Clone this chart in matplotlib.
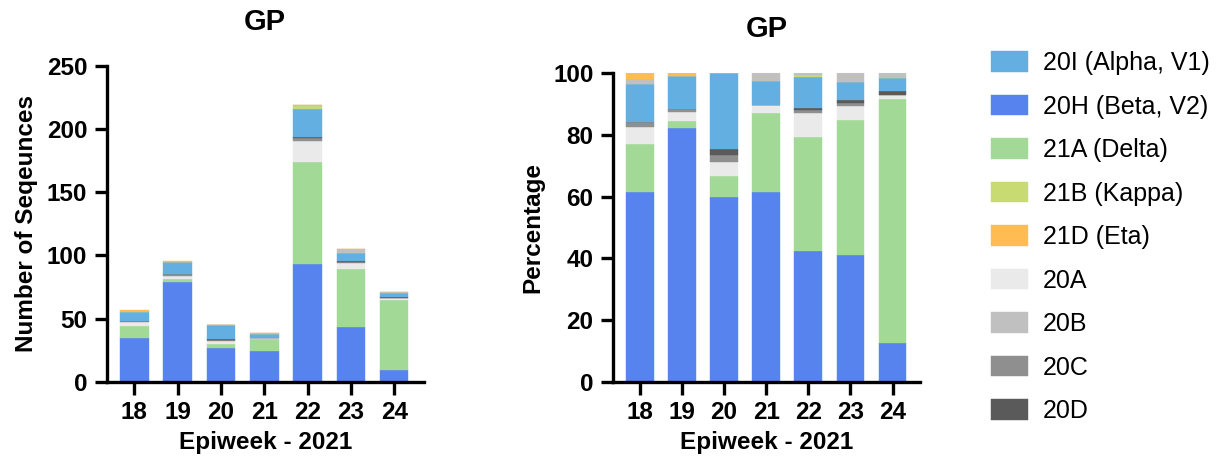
import numpy as np
import matplotlib
matplotlib.use("Agg")
from matplotlib import pyplot as plt

plt.rcParams['font.family'] = ['Liberation Sans', 'DejaVu Sans']

# data: sequences per clade per epiweek (GP)
weeks = ['18', '19', '20', '21', '22', '23', '24']
c20H = [35, 79, 27, 24, 93, 43, 9]
c21A = [9, 2, 3, 10, 81, 46, 56]
c20A = [3, 3, 2, 1, 17, 5, 1]
c20C = [1, 1, 1, 0, 2, 1, 0]
c20D = [0, 0, 1, 0, 1, 1, 1]
c20I = [7, 10, 11, 3, 22, 6, 3]
c21B = [0, 0, 0, 0, 2, 0, 0]
c20B = [1, 0, 0, 1, 1, 3, 1]
c21D = [1, 1, 0, 0, 0, 0, 0]

# stack order, bottom to top
stack = [
    ('20H (Beta, V2)', c20H, '#5683EE'),
    ('21A (Delta)', c21A, '#A2D996'),
    ('20A', c20A, '#EAEAEA'),
    ('20C', c20C, '#8F8F8F'),
    ('20D', c20D, '#5A5A5A'),
    ('20I (Alpha, V1)', c20I, '#63AFE2'),
    ('21B (Kappa)', c21B, '#C8DB72'),
    ('20B', c20B, '#C0C0C0'),
    ('21D (Eta)', c21D, '#FFBC52'),
]
legend_order = ['20I (Alpha, V1)', '20H (Beta, V2)', '21A (Delta)', '21B (Kappa)',
                '21D (Eta)', '20A', '20B', '20C', '20D']

fig = plt.figure(figsize=(12.21, 4.65), dpi=100)
ax1 = fig.add_axes([0.0874, 0.179, 0.2595, 0.679])
ax2 = fig.add_axes([0.502, 0.179, 0.2514, 0.6636])

x = np.arange(len(weeks))
totals = np.sum([s[1] for s in stack], axis=0)

handles = {}
bottom1 = np.zeros(len(weeks))
bottom2 = np.zeros(len(weeks))
for name, vals, col in stack:
    vals = np.array(vals, dtype=float)
    pct = vals / totals * 100
    b = ax1.bar(x, vals, 0.66, bottom=bottom1, color=col, edgecolor=col, linewidth=0.3)
    ax2.bar(x, pct, 0.66, bottom=bottom2, color=col, edgecolor=col, linewidth=0.3)
    bottom1 += vals
    bottom2 += pct
    handles[name] = b

for ax in (ax1, ax2):
    ax.spines['top'].set_visible(False)
    ax.spines['right'].set_visible(False)
    ax.spines['left'].set_linewidth(2.4)
    ax.spines['bottom'].set_linewidth(2.4)
    ax.tick_params(width=2.4, length=9, labelsize=17.5, pad=5)
    ax.set_xticks(x)
    ax.set_xticklabels(weeks, fontweight='bold')
    ax.set_xlabel('Epiweek - 2021', fontsize=17.5, fontweight='bold', labelpad=5)
    ax.set_title('GP', fontsize=21, fontweight='bold', pad=26)

ax1.set_xlim(-0.64, 6.68)
ax1.set_ylim(0, 250)
ax1.set_yticks([0, 50, 100, 150, 200, 250])
ax1.set_yticklabels(['0', '50', '100', '150', '200', '250'], fontweight='bold')
ax1.set_ylabel('Number of Seqeunces', fontsize=17.5, fontweight='bold', labelpad=6)

ax2.set_xlim(-0.64, 6.65)
ax2.set_ylim(0, 100)
ax2.set_yticks([0, 20, 40, 60, 80, 100])
ax2.set_yticklabels(['0', '20', '40', '60', '80', '100'], fontweight='bold')
ax2.set_ylabel('Percentage', fontsize=17.5, fontweight='bold', labelpad=6)

fig.legend([handles[n] for n in legend_order], legend_order,
           loc='upper left', bbox_to_anchor=(0.8114, 0.89), frameon=False,
           fontsize=18, borderpad=0, borderaxespad=0, handlelength=1.5,
           handleheight=0.87, handletextpad=0.6, labelspacing=0.78)

fig.savefig('out.png', dpi=100)
